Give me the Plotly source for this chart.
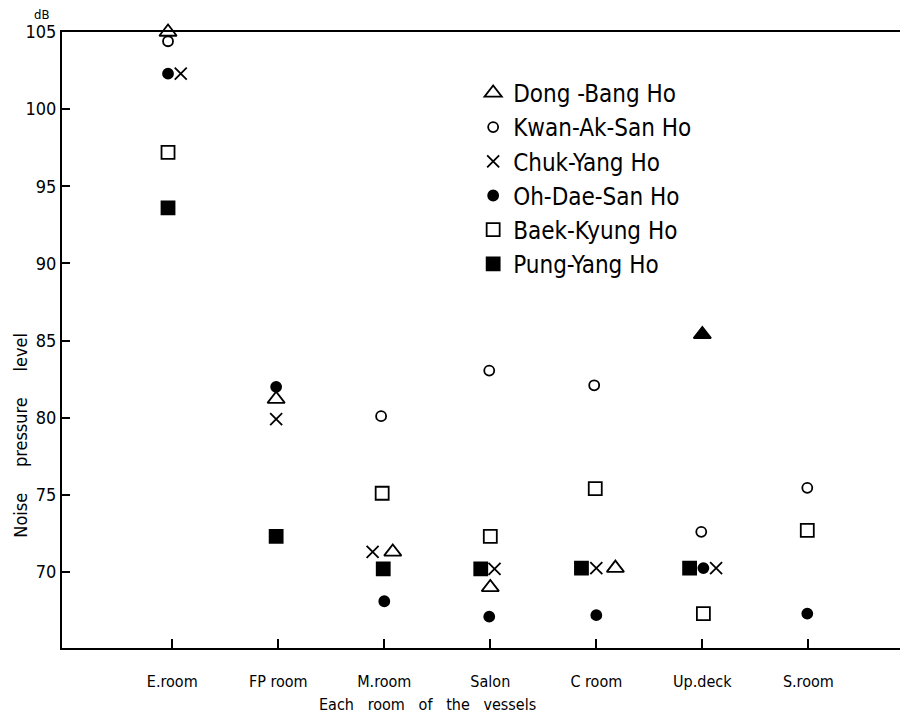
import plotly.graph_objects as go

rooms = ["E.room", "FP room", "M.room", "Salon", "C room", "Up.deck", "S.room"]
y_ticks = [70, 75, 80, 85, 90, 95, 100, 105]

dong_bang = [105.0, 81.2, 71.3, 69.0, 70.25, 85.4, None]
kwan_ak_san = [104.4, None, 80.1, 83.05, 82.1, 72.6, 75.45]
chuk_yang = [102.3, 79.9, 71.3, 70.2, 70.25, 70.25, None]
oh_dae_san = [102.3, 82.0, 68.1, 67.1, 67.2, 70.25, 67.3]
baek_kyung = [97.2, None, 75.1, 72.3, 75.4, 67.3, 72.7]
pung_yang = [93.6, 72.3, 70.2, 70.2, 70.25, 70.25, None]

# horizontal dodge (in category units) so coincident marks sit side by side
dodge = {
    "Dong -Bang Ho": [-0.04, -0.02, 0.08, 0.0, 0.18, 0.0, 0],
    "Kwan-Ak-San Ho": [-0.04, 0, -0.03, -0.01, -0.02, -0.01, -0.01],
    "Chuk-Yang Ho": [0.08, -0.02, -0.11, 0.04, 0.0, 0.13, 0],
    "Oh-Dae-San Ho": [-0.04, -0.02, 0.0, -0.01, 0.0, 0.01, -0.01],
    "Baek-Kyung Ho": [-0.04, 0, -0.02, 0.0, -0.01, 0.01, -0.01],
    "Pung-Yang Ho": [-0.04, -0.02, -0.01, -0.09, -0.14, -0.12, 0],
}

series = [
    ("Dong -Bang Ho", dong_bang, ["triangle-up-open"] * 5 + ["triangle-up", "triangle-up-open"], 15),
    ("Kwan-Ak-San Ho", kwan_ak_san, "circle-open", 10),
    ("Chuk-Yang Ho", chuk_yang, "x-thin-open", 12),
    ("Oh-Dae-San Ho", oh_dae_san, "circle", 10),
    ("Baek-Kyung Ho", baek_kyung, "square-open", 13),
    ("Pung-Yang Ho", pung_yang, "square", 13),
]

FONT = "Liberation Sans Narrow, DejaVu Sans Condensed, Liberation Sans, sans-serif"

fig = go.Figure()
for i, (name, vals, sym, size) in enumerate(series):
    xs = [k + dodge[name][k] for k in range(len(rooms))]
    fig.add_trace(go.Scatter(
        x=xs, y=vals, mode="markers", name=name,
        legendgroup=f"g{i}",
        cliponaxis=False,
        marker=dict(symbol=sym, size=size, color="black",
                    line=dict(color="black", width=1.8)),
    ))

# page body has an 8px margin; the figure is sized to fill the rest of the window
fig.update_layout(
    width=900, height=708,
    margin=dict(l=54, r=0, t=24, b=68, autoexpand=False),
    paper_bgcolor="white", plot_bgcolor="white",
    font=dict(family=FONT, color="black", size=17),
    showlegend=True,
    legend=dict(x=0.486, y=0.937, xanchor="left", yanchor="top",
                bgcolor="rgba(0,0,0,0)", font=dict(size=24, family=FONT),
                traceorder="grouped", tracegroupgap=0, itemsizing="trace"),
    xaxis=dict(range=[-1.04, 6.94], tickmode="array",
               tickvals=list(range(len(rooms))), ticktext=rooms,
               ticks="inside", ticklen=9, tickwidth=1.5, tickcolor="black",
               showline=True, linecolor="black", linewidth=2, mirror=True,
               showgrid=False, zeroline=False, ticklabelstandoff=18,
               automargin=False, tickfont=dict(size=16)),
    yaxis=dict(range=[65.07, 105], tickmode="array", tickvals=y_ticks,
               ticktext=[str(v) for v in y_ticks],
               ticks="inside", ticklen=8, tickwidth=1.5, tickcolor="black",
               showline=True, linecolor="black", linewidth=2,
               showgrid=False, zeroline=False, automargin=False,
               tickfont=dict(size=18)),
    annotations=[
        dict(text="Each\u00a0\u00a0 room\u00a0\u00a0 of\u00a0\u00a0 the\u00a0\u00a0 vessels",
             xref="paper", yref="paper", x=(427 - 62) / 846, y=-0.092,
             xanchor="center", yanchor="middle", showarrow=False,
             font=dict(size=16)),
        dict(text="Noise\u00a0\u00a0\u00a0\u00a0 pressure\u00a0\u00a0\u00a0\u00a0 level",
             xref="paper", yref="paper", x=-0.05, y=1 - (435 - 32) / 616,
             xanchor="center", yanchor="middle", textangle=-90, showarrow=False,
             font=dict(size=18)),
        dict(text="dB", xref="paper", yref="paper", x=-0.024, y=1.0,
             xanchor="center", yanchor="bottom", yshift=8, showarrow=False,
             font=dict(size=13)),
    ],
)

fig.write_html("out.html")
